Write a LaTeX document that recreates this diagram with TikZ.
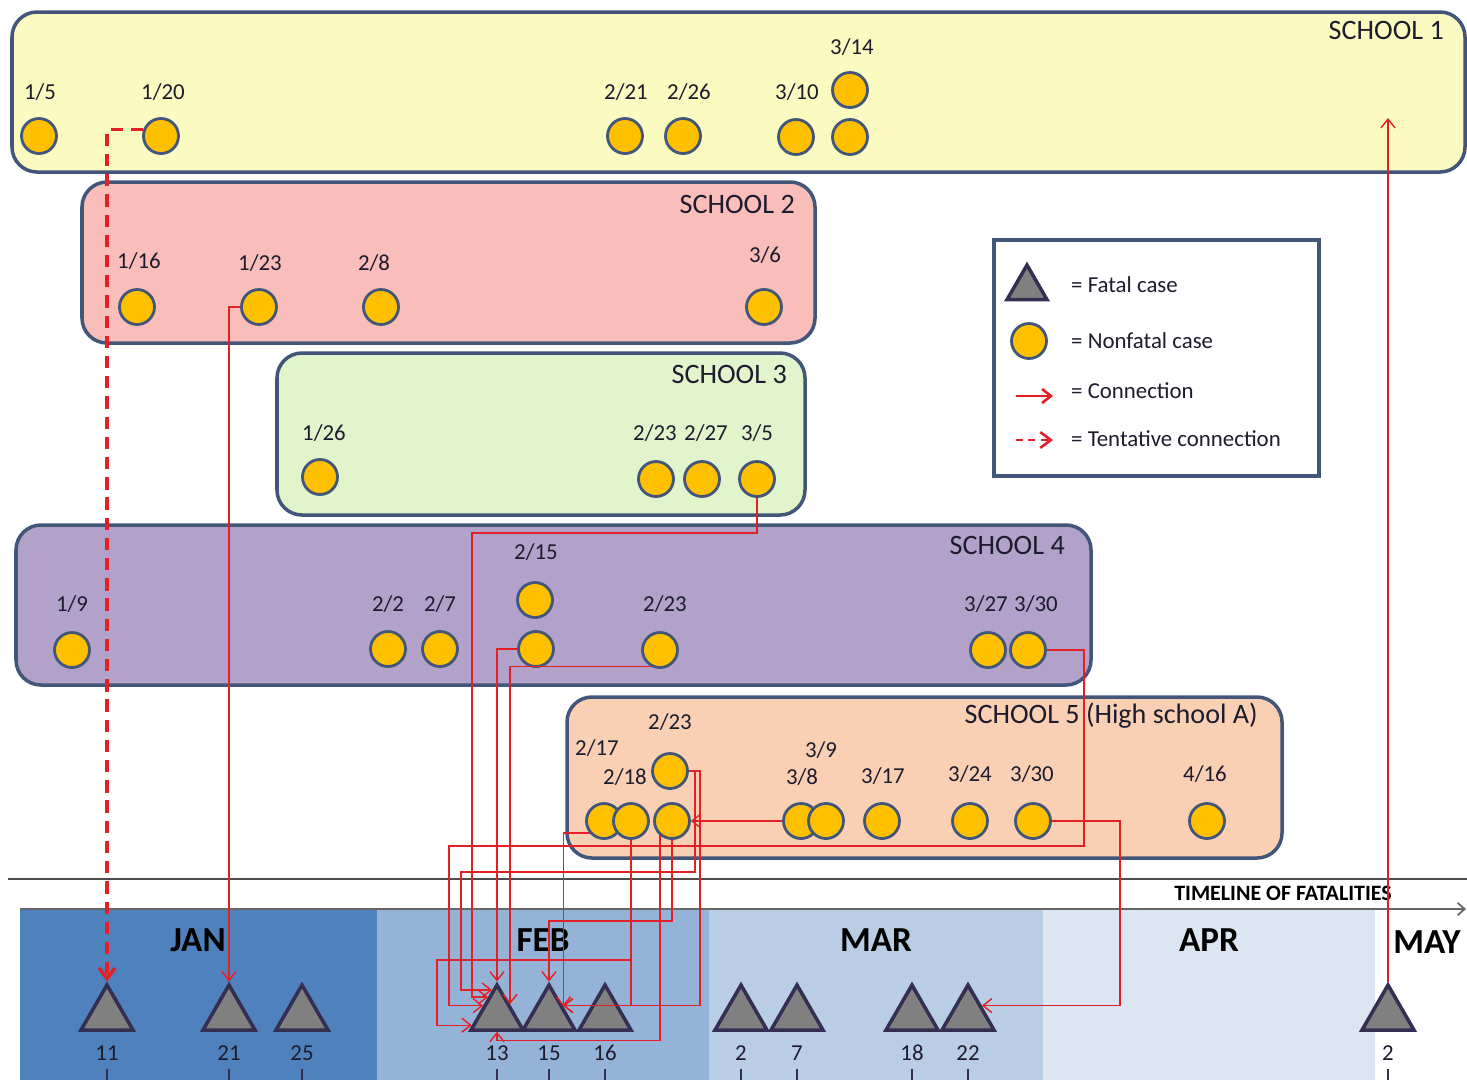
\documentclass[tikz,border=0pt]{standalone}
\usepackage{fontspec}
\setmainfont{Carlito}
\usetikzlibrary{shapes.geometric,arrows.meta,calc}
\definecolor{colSchoolA}{RGB}{251,250,193}
\definecolor{colSchoolB}{RGB}{249,190,186}
\definecolor{colSchoolC}{RGB}{226,244,203}
\definecolor{colSchoolD}{RGB}{178,161,200}
\definecolor{colSchoolE}{RGB}{250,208,180}
\definecolor{colBorder}{RGB}{66,86,122}
\definecolor{colCase}{RGB}{255,192,0}
\definecolor{colFatal}{RGB}{128,128,128}
\definecolor{colFatalEdge}{RGB}{52,46,82}
\definecolor{colLink}{RGB}{226,32,38}
\definecolor{colJan}{RGB}{79,129,189}
\definecolor{colFeb}{RGB}{149,179,215}
\definecolor{colMar}{RGB}{185,205,229}
\definecolor{colApr}{RGB}{220,230,242}
\definecolor{colText}{RGB}{28,28,45}

\begin{document}
\begin{tikzpicture}[x=0.02cm, y=-0.02cm,
    every node/.style={font=\fontsize{13}{15}\selectfont, text=colText},
    school/.style={draw=colBorder, line width=2pt, rounded corners=0.5cm},
    schoolname/.style={anchor=east, font=\fontsize{16}{19}\selectfont},
    case/.style={circle, draw=colBorder, line width=1.6pt, fill=colCase, minimum size=0.7cm, inner sep=0pt},
    fatal/.style={regular polygon, regular polygon sides=3, draw=colFatalEdge, line width=2pt, fill=colFatal, minimum size=1.2cm, inner sep=0pt},
    link/.style={draw=colLink, line width=0.8pt, -{Straight Barb[length=5pt,width=8pt]}},
    tentative/.style={draw=colLink, line width=2pt, dash pattern=on 7pt off 4.5pt, -{Straight Barb[length=6pt,width=9pt]}},
    month/.style={font=\fontsize{20}{24}\selectfont\bfseries, text=black},
    legendtext/.style={anchor=west, font=\fontsize{13}{15}\selectfont},
    daytick/.style={draw=colFatalEdge, line width=0.6pt}
]
    \useasboundingbox (0,0) rectangle (1467,1080);
    \fill[white] (0,0) rectangle (1467,1080);

    % school 1
    \draw[school, fill=colSchoolA] (12,12) rectangle (1465,172);
    \node[schoolname] (s1-name) at (1450,30) {SCHOOL 1};
    \foreach \id/\x/\y in {s1-0105/39/136, s1-0120/161/136, s1-0221/625/136, s1-0226/683/136,
                           s1-0310/796/137, s1-0314a/850/90, s1-0314b/850/137}
        \node[case] (\id) at (\x,\y) {};
    \foreach \m/\d/\x/\y in {1/5/40/92, 1/20/163/92, 2/21/626/92, 2/26/689/92, 3/10/797/92, 3/14/852/47}
        \node (d-\m-\d-\x) at (\x,\y) {\m/\d};

    % school 2
    \draw[school, fill=colSchoolB] (82,182) rectangle (815,343);
    \node[schoolname] (s2-name) at (801,204) {SCHOOL 2};
    \foreach \id/\x/\y in {s2-0116/137/307, s2-0123/259/307, s2-0208/381/307, s2-0306/764/307}
        \node[case] (\id) at (\x,\y) {};
    \foreach \m/\d/\x/\y in {1/16/139/261, 1/23/260/263, 2/8/374/263, 3/6/765/255}
        \node (d-\m-\d-\x) at (\x,\y) {\m/\d};

    % school 3
    \draw[school, fill=colSchoolC] (277,353) rectangle (805,515);
    \node[schoolname] (s3-name) at (793,374) {SCHOOL 3};
    \foreach \id/\x/\y in {s3-0126/320/477, s3-0223/656/479, s3-0227/702/479, s3-0305/757/479}
        \node[case] (\id) at (\x,\y) {};
    \foreach \m/\d/\x/\y in {1/26/324/433, 2/23/655/433, 2/27/706/433, 3/5/757/433}
        \node (d-\m-\d-\x) at (\x,\y) {\m/\d};

    % school 4
    \draw[school, fill=colSchoolD] (16,525) rectangle (1091,685);
    \node[schoolname] (s4-name) at (1071,545) {SCHOOL 4};
    \foreach \id/\x/\y in {s4-0109/72/650, s4-0202/388/649, s4-0207/440/649, s4-0215a/535/600,
                           s4-0215b/536/649, s4-0223/660/650, s4-0327/988/650, s4-0330/1028/650}
        \node[case] (\id) at (\x,\y) {};
    \foreach \m/\d/\x/\y in {1/9/72/604, 2/2/388/604, 2/7/440/604, 2/15/536/552, 2/23/665/604,
                             3/27/986/604, 3/30/1036/604}
        \node (d-\m-\d-\x) at (\x,\y) {\m/\d};

    % school 5
    \draw[school, fill=colSchoolE] (567,697) rectangle (1282,858);
    \node[schoolname] (s5-name) at (1264,716) {SCHOOL 5 (High school A)};
    \foreach \id/\x/\y in {s5-0217/604/821, s5-0218/631/821, s5-0223a/670/771, s5-0223b/672/821,
                           s5-0308/801/821, s5-0309/826/821, s5-0317/882/821, s5-0324/970/821,
                           s5-0330/1033/821, s5-0416/1207/821}
        \node[case] (\id) at (\x,\y) {};
    \foreach \m/\d/\x/\y in {2/17/597/748, 2/18/625/777, 2/23/670/722, 3/9/821/750, 3/8/802/777,
                             3/17/883/776, 3/24/970/774, 3/30/1032/774, 4/16/1205/774}
        \node (d-\m-\d-\x) at (\x,\y) {\m/\d};

    % legend
    \draw[draw=colBorder, line width=2pt, fill=white] (994,240) rectangle (1319,476);
    \node[fatal, minimum size=0.92cm] (lg-fatal) at (1027,288) {};
    \node[case] (lg-case) at (1029,341) {};
    \coordinate (lg-a1) at (1016,396);
    \coordinate (lg-a2) at (1053,396);
    \coordinate (lg-b1) at (1016,440);
    \coordinate (lg-b2) at (1053,440);
    \draw[link, line width=1.5pt] (lg-a1) -- (lg-a2);
    \draw[tentative, line width=1.5pt, dash pattern=on 4pt off 3pt] (lg-b1) -- (lg-b2);
    \node[legendtext] (lg-t1) at (1065,285) {= Fatal case};
    \node[legendtext] (lg-t2) at (1065,341) {= Nonfatal case};
    \node[legendtext] (lg-t3) at (1065,391) {= Connection};
    \node[legendtext] (lg-t4) at (1065,439) {= Tentative connection};

    % timeline of fatalities
    \draw[draw=black!70, line width=1.2pt] (8,879) -- (1467,879);
    \fill[colJan] (20,908) rectangle (377,1080);
    \fill[colFeb] (377,908) rectangle (709,1080);
    \fill[colMar] (709,908) rectangle (1043,1080);
    \fill[colApr] (1043,908) rectangle (1375,1080);
    \draw[draw=black!60, line width=1pt, -{Straight Barb[length=4pt,width=7pt]}] (20,909) -- (1466,909);
    \node[font=\fontsize{12.5}{15}\selectfont\bfseries, text=black] (tl-title) at (1283,893) {TIMELINE OF FATALITIES};
    \node[month] (m-jan) at (198,940) {JAN};
    \node[month] (m-feb) at (543,940) {FEB};
    \node[month] (m-mar) at (876,940) {MAR};
    \node[month] (m-apr) at (1209,940) {APR};
    \node[month] (m-may) at (1427,942) {MAY};
    \foreach \id/\x/\d in {t-0111/107/11, t-0121/229/21, t-0125/302/25, t-0213/497/13, t-0215/549/15,
                           t-0216/605/16, t-0302/741/2, t-0307/797/7, t-0318/912/18, t-0322/968/22,
                           t-0502/1388/2} {
        \node[fatal] (\id) at (\x,1015) {};
        \node (\id-n) at (\x,1053) {\d};
        \draw[daytick] (\x,1069) -- (\x,1080);
    }

    % connections
    \draw[tentative] (s1-0120.160) -| (t-0111.corner 1);
    \draw[link] (s2-0123.west) -| (t-0121.corner 1);
    \coordinate (s1-in) at (1388,118);
    \draw[link] (t-0502.corner 1) -- (s1-in);
    \draw[link] (s3-0305.south) |- (472,533) |- ($(t-0213.corner 1)!0.31!(t-0213.corner 2)$);
    \draw[link] (s4-0215b.west) -| (t-0213.corner 1);
    \draw[link] (s4-0223.240) -| ($(t-0213.corner 1)!0.45!(t-0213.corner 3)$);
    \draw[link] (s4-0330.east) -| (1084,846) -| (449,960) |- ($(t-0213.corner 1)!0.48!(t-0213.corner 2)$);
    \draw[link] (s5-0217.220) -| ($(t-0215.corner 1)!0.5!(t-0215.corner 3)$);
    \draw[link] (s5-0218.south) |- (437,960) |- ($(t-0213.corner 1)!0.87!(t-0213.corner 2)$);
    \draw[link] (s5-0218.south) |- ($(t-0215.corner 1)!0.48!(t-0215.corner 3)$);
    \draw[link] (s5-0223a.east) -| (700,900) |- ($(t-0215.corner 1)!0.48!(t-0215.corner 3)$);
    \draw[link] (s5-0223a.east) -| (695,872) -| (461,950) |- ($(t-0213.corner 1)!0.17!(t-0213.corner 2)$);
    \draw[link] (s5-0223b.south) -- ++(0,81) -| (t-0215.corner 1);
    \draw[link] (s5-0223b.230) |- ($(t-0213.corner 2)!0.5!(t-0213.corner 3)+(0,9)$) -- ($(t-0213.corner 2)!0.5!(t-0213.corner 3)$);
    \draw[link] (s5-0308.west) -- (s5-0223b.east);
    \draw[link] (s5-0330.east) -| (1120,900) |- ($(t-0322.corner 1)!0.48!(t-0322.corner 3)$);
\end{tikzpicture}
\end{document}
